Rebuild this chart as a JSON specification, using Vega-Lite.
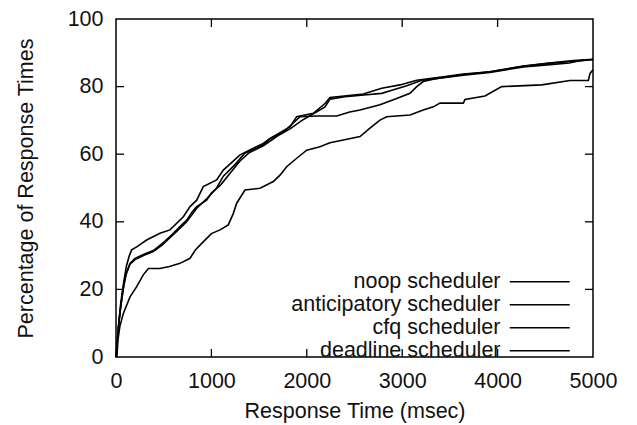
{
  "$schema": "https://vega.github.io/schema/vega-lite/v6.json",
  "width": 477,
  "height": 338,
  "autosize": {"type": "none"},
  "padding": {"left": 116, "top": 19, "right": 44, "bottom": 68},
  "background": "white",
  "config": {
    "view": {"stroke": "black", "strokeWidth": 1.5},
    "font": "Liberation Sans",
    "axis": {
      "grid": false, "domain": false, "ticks": false,
      "labelFont": "Liberation Sans", "labelFontSize": 21.5, "labelColor": "#111", "labelPadding": 13,
      "titleFont": "Liberation Sans", "titleFontSize": 21.5, "titleFontWeight": "normal", "titleColor": "#111"
    }
  },
  "datasets": {
    "xt": [{"v": 1000}, {"v": 2000}, {"v": 3000}, {"v": 4000}],
    "yt": [{"v": 20}, {"v": 40}, {"v": 60}, {"v": 80}],
    "cdf": [
      {"s": "noop scheduler", "t": 0, "p": 0},
      {"s": "noop scheduler", "t": 15, "p": 5},
      {"s": "noop scheduler", "t": 30, "p": 10},
      {"s": "noop scheduler", "t": 50, "p": 16},
      {"s": "noop scheduler", "t": 80, "p": 22},
      {"s": "noop scheduler", "t": 110, "p": 27},
      {"s": "noop scheduler", "t": 140, "p": 30},
      {"s": "noop scheduler", "t": 164, "p": 31.7},
      {"s": "noop scheduler", "t": 217, "p": 32.6},
      {"s": "noop scheduler", "t": 321, "p": 34.6},
      {"s": "noop scheduler", "t": 461, "p": 36.6},
      {"s": "noop scheduler", "t": 566, "p": 37.6},
      {"s": "noop scheduler", "t": 706, "p": 41.5},
      {"s": "noop scheduler", "t": 776, "p": 44.5},
      {"s": "noop scheduler", "t": 846, "p": 46.4},
      {"s": "noop scheduler", "t": 915, "p": 50.4},
      {"s": "noop scheduler", "t": 1055, "p": 52.4},
      {"s": "noop scheduler", "t": 1125, "p": 55.3},
      {"s": "noop scheduler", "t": 1300, "p": 59.8},
      {"s": "noop scheduler", "t": 1544, "p": 63.2},
      {"s": "noop scheduler", "t": 1614, "p": 64.7},
      {"s": "noop scheduler", "t": 1824, "p": 68.1},
      {"s": "noop scheduler", "t": 1894, "p": 71.1},
      {"s": "noop scheduler", "t": 2068, "p": 72.1},
      {"s": "noop scheduler", "t": 2191, "p": 75.0},
      {"s": "noop scheduler", "t": 2243, "p": 76.8},
      {"s": "noop scheduler", "t": 2593, "p": 77.8},
      {"s": "noop scheduler", "t": 2785, "p": 79.5},
      {"s": "noop scheduler", "t": 2977, "p": 80.5},
      {"s": "noop scheduler", "t": 3152, "p": 81.9},
      {"s": "noop scheduler", "t": 3431, "p": 82.9},
      {"s": "noop scheduler", "t": 3641, "p": 83.7},
      {"s": "noop scheduler", "t": 3920, "p": 84.4},
      {"s": "noop scheduler", "t": 4270, "p": 86.1},
      {"s": "noop scheduler", "t": 4515, "p": 86.9},
      {"s": "noop scheduler", "t": 4794, "p": 87.7},
      {"s": "noop scheduler", "t": 5000, "p": 88.1},

      {"s": "anticipatory scheduler", "t": 0, "p": 0},
      {"s": "anticipatory scheduler", "t": 10, "p": 0},
      {"s": "anticipatory scheduler", "t": 20, "p": 5},
      {"s": "anticipatory scheduler", "t": 40, "p": 9},
      {"s": "anticipatory scheduler", "t": 77, "p": 12.9},
      {"s": "anticipatory scheduler", "t": 147, "p": 17.8},
      {"s": "anticipatory scheduler", "t": 217, "p": 20.8},
      {"s": "anticipatory scheduler", "t": 286, "p": 24.3},
      {"s": "anticipatory scheduler", "t": 339, "p": 26.2},
      {"s": "anticipatory scheduler", "t": 461, "p": 26.2},
      {"s": "anticipatory scheduler", "t": 560, "p": 26.8},
      {"s": "anticipatory scheduler", "t": 671, "p": 27.7},
      {"s": "anticipatory scheduler", "t": 776, "p": 29.2},
      {"s": "anticipatory scheduler", "t": 828, "p": 31.5},
      {"s": "anticipatory scheduler", "t": 863, "p": 32.6},
      {"s": "anticipatory scheduler", "t": 930, "p": 34.5},
      {"s": "anticipatory scheduler", "t": 1000, "p": 36.5},
      {"s": "anticipatory scheduler", "t": 1090, "p": 37.6},
      {"s": "anticipatory scheduler", "t": 1177, "p": 39.1},
      {"s": "anticipatory scheduler", "t": 1230, "p": 42.5},
      {"s": "anticipatory scheduler", "t": 1265, "p": 45.5},
      {"s": "anticipatory scheduler", "t": 1352, "p": 49.4},
      {"s": "anticipatory scheduler", "t": 1509, "p": 49.9},
      {"s": "anticipatory scheduler", "t": 1649, "p": 51.9},
      {"s": "anticipatory scheduler", "t": 1719, "p": 53.8},
      {"s": "anticipatory scheduler", "t": 1789, "p": 56.3},
      {"s": "anticipatory scheduler", "t": 1894, "p": 58.8},
      {"s": "anticipatory scheduler", "t": 1999, "p": 61.2},
      {"s": "anticipatory scheduler", "t": 2138, "p": 62.2},
      {"s": "anticipatory scheduler", "t": 2243, "p": 63.4},
      {"s": "anticipatory scheduler", "t": 2383, "p": 64.2},
      {"s": "anticipatory scheduler", "t": 2558, "p": 65.2},
      {"s": "anticipatory scheduler", "t": 2662, "p": 67.7},
      {"s": "anticipatory scheduler", "t": 2767, "p": 70.1},
      {"s": "anticipatory scheduler", "t": 2837, "p": 71.1},
      {"s": "anticipatory scheduler", "t": 3082, "p": 71.6},
      {"s": "anticipatory scheduler", "t": 3221, "p": 73.1},
      {"s": "anticipatory scheduler", "t": 3326, "p": 74.0},
      {"s": "anticipatory scheduler", "t": 3396, "p": 75.1},
      {"s": "anticipatory scheduler", "t": 3641, "p": 75.1},
      {"s": "anticipatory scheduler", "t": 3658, "p": 76.2},
      {"s": "anticipatory scheduler", "t": 3868, "p": 77.2},
      {"s": "anticipatory scheduler", "t": 4043, "p": 80.0},
      {"s": "anticipatory scheduler", "t": 4462, "p": 80.5},
      {"s": "anticipatory scheduler", "t": 4759, "p": 81.8},
      {"s": "anticipatory scheduler", "t": 4951, "p": 81.8},
      {"s": "anticipatory scheduler", "t": 4969, "p": 83.9},
      {"s": "anticipatory scheduler", "t": 5000, "p": 85},

      {"s": "cfq scheduler", "t": 0, "p": 0},
      {"s": "cfq scheduler", "t": 15, "p": 5},
      {"s": "cfq scheduler", "t": 30, "p": 10},
      {"s": "cfq scheduler", "t": 50, "p": 15},
      {"s": "cfq scheduler", "t": 80, "p": 21},
      {"s": "cfq scheduler", "t": 110, "p": 25},
      {"s": "cfq scheduler", "t": 147, "p": 27.7},
      {"s": "cfq scheduler", "t": 199, "p": 29.2},
      {"s": "cfq scheduler", "t": 300, "p": 30.5},
      {"s": "cfq scheduler", "t": 391, "p": 31.5},
      {"s": "cfq scheduler", "t": 480, "p": 33.5},
      {"s": "cfq scheduler", "t": 566, "p": 35.6},
      {"s": "cfq scheduler", "t": 650, "p": 38},
      {"s": "cfq scheduler", "t": 741, "p": 40.5},
      {"s": "cfq scheduler", "t": 800, "p": 43},
      {"s": "cfq scheduler", "t": 846, "p": 44.5},
      {"s": "cfq scheduler", "t": 950, "p": 46.4},
      {"s": "cfq scheduler", "t": 1000, "p": 48.5},
      {"s": "cfq scheduler", "t": 1100, "p": 51},
      {"s": "cfq scheduler", "t": 1200, "p": 54.5},
      {"s": "cfq scheduler", "t": 1300, "p": 58},
      {"s": "cfq scheduler", "t": 1400, "p": 60.5},
      {"s": "cfq scheduler", "t": 1544, "p": 62.5},
      {"s": "cfq scheduler", "t": 1700, "p": 65.5},
      {"s": "cfq scheduler", "t": 1824, "p": 67.5},
      {"s": "cfq scheduler", "t": 1950, "p": 70},
      {"s": "cfq scheduler", "t": 2100, "p": 72.5},
      {"s": "cfq scheduler", "t": 2191, "p": 74},
      {"s": "cfq scheduler", "t": 2243, "p": 76.3},
      {"s": "cfq scheduler", "t": 2400, "p": 77},
      {"s": "cfq scheduler", "t": 2600, "p": 77.5},
      {"s": "cfq scheduler", "t": 2785, "p": 78},
      {"s": "cfq scheduler", "t": 2900, "p": 79},
      {"s": "cfq scheduler", "t": 3040, "p": 80.2},
      {"s": "cfq scheduler", "t": 3200, "p": 81.8},
      {"s": "cfq scheduler", "t": 3431, "p": 82.6},
      {"s": "cfq scheduler", "t": 3641, "p": 83.4},
      {"s": "cfq scheduler", "t": 3920, "p": 84.2},
      {"s": "cfq scheduler", "t": 4270, "p": 85.8},
      {"s": "cfq scheduler", "t": 4550, "p": 86.5},
      {"s": "cfq scheduler", "t": 4750, "p": 87.0},
      {"s": "cfq scheduler", "t": 4850, "p": 87.6},
      {"s": "cfq scheduler", "t": 5000, "p": 88.0},

      {"s": "deadline scheduler", "t": 0, "p": 0},
      {"s": "deadline scheduler", "t": 12, "p": 4},
      {"s": "deadline scheduler", "t": 25, "p": 9},
      {"s": "deadline scheduler", "t": 45, "p": 14},
      {"s": "deadline scheduler", "t": 70, "p": 19},
      {"s": "deadline scheduler", "t": 100, "p": 24},
      {"s": "deadline scheduler", "t": 147, "p": 27.5},
      {"s": "deadline scheduler", "t": 199, "p": 28.8},
      {"s": "deadline scheduler", "t": 300, "p": 30.2},
      {"s": "deadline scheduler", "t": 391, "p": 31.2},
      {"s": "deadline scheduler", "t": 480, "p": 33},
      {"s": "deadline scheduler", "t": 566, "p": 35.3},
      {"s": "deadline scheduler", "t": 650, "p": 37.5},
      {"s": "deadline scheduler", "t": 741, "p": 40.0},
      {"s": "deadline scheduler", "t": 846, "p": 44.0},
      {"s": "deadline scheduler", "t": 950, "p": 46.8},
      {"s": "deadline scheduler", "t": 1055, "p": 50},
      {"s": "deadline scheduler", "t": 1125, "p": 53.5},
      {"s": "deadline scheduler", "t": 1250, "p": 57},
      {"s": "deadline scheduler", "t": 1350, "p": 60.3},
      {"s": "deadline scheduler", "t": 1450, "p": 61.5},
      {"s": "deadline scheduler", "t": 1544, "p": 62.8},
      {"s": "deadline scheduler", "t": 1614, "p": 64.5},
      {"s": "deadline scheduler", "t": 1750, "p": 66.5},
      {"s": "deadline scheduler", "t": 1850, "p": 69},
      {"s": "deadline scheduler", "t": 1929, "p": 71.1},
      {"s": "deadline scheduler", "t": 2100, "p": 71.3},
      {"s": "deadline scheduler", "t": 2313, "p": 71.3},
      {"s": "deadline scheduler", "t": 2450, "p": 72.5},
      {"s": "deadline scheduler", "t": 2558, "p": 73.1},
      {"s": "deadline scheduler", "t": 2767, "p": 74.6},
      {"s": "deadline scheduler", "t": 2942, "p": 76.5},
      {"s": "deadline scheduler", "t": 3082, "p": 78},
      {"s": "deadline scheduler", "t": 3152, "p": 80},
      {"s": "deadline scheduler", "t": 3221, "p": 81.5},
      {"s": "deadline scheduler", "t": 3350, "p": 82.3},
      {"s": "deadline scheduler", "t": 3641, "p": 83.6},
      {"s": "deadline scheduler", "t": 3920, "p": 84.4},
      {"s": "deadline scheduler", "t": 4270, "p": 86},
      {"s": "deadline scheduler", "t": 4515, "p": 86.8},
      {"s": "deadline scheduler", "t": 4794, "p": 87.5},
      {"s": "deadline scheduler", "t": 5000, "p": 88}
    ]
  },
  "layer": [
    {
      "data": {"name": "cdf"},
      "mark": {"type": "line", "strokeWidth": 1.6, "interpolate": "linear"},
      "encoding": {
        "x": {
          "field": "t", "type": "quantitative",
          "scale": {"domain": [0, 5000], "nice": false, "zero": false},
          "axis": {"orient": "bottom", "values": [0, 1000, 2000, 3000, 4000, 5000], "format": "d", "labelFlush": false, "labelOverlap": false, "title": "Response Time (msec)", "titlePadding": 9}
        },
        "y": {
          "field": "p", "type": "quantitative",
          "scale": {"domain": [0, 100], "nice": false, "zero": false},
          "axis": {"orient": "left", "values": [0, 20, 40, 60, 80, 100], "format": "d", "labelOverlap": false, "title": "Percentage of Response Times", "titlePadding": 30}
        },
        "color": {
          "field": "s", "type": "nominal",
          "scale": {"domain": ["noop scheduler", "anticipatory scheduler", "cfq scheduler", "deadline scheduler"], "range": ["black", "black", "black", "black"]},
          "legend": {
            "orient": "none", "legendX": 413, "legendY": 252, "title": null,
            "symbolType": "M-6,0H6", "symbolSize": 100, "symbolStrokeWidth": 1.6, "symbolStrokeColor": "black",
            "labelAlign": "right", "labelOffset": -50, "rowPadding": 0, "padding": 0,
            "labelFont": "Liberation Sans", "labelFontSize": 21.5, "labelColor": "#111", "labelLimit": 400
          }
        }
      }
    },
    {
      "data": {"name": "xt"},
      "mark": {"type": "tick", "orient": "vertical", "size": 16, "thickness": 1.3, "color": "black", "opacity": 1, "clip": true},
      "encoding": {
        "x": {"field": "v", "type": "quantitative", "scale": {"domain": [0, 5000], "nice": false, "zero": false}, "axis": {"orient": "bottom", "values": [0, 1000, 2000, 3000, 4000, 5000], "format": "d", "labelFlush": false, "labelOverlap": false, "title": "Response Time (msec)", "titlePadding": 9}},
        "y": {"datum": 0, "type": "quantitative", "scale": {"domain": [0, 100], "nice": false, "zero": false}, "axis": {"orient": "left", "values": [0, 20, 40, 60, 80, 100], "format": "d", "labelOverlap": false, "title": "Percentage of Response Times", "titlePadding": 30}}
      }
    },
    {
      "data": {"name": "xt"},
      "mark": {"type": "tick", "orient": "vertical", "size": 16, "thickness": 1.3, "color": "black", "opacity": 1, "clip": true},
      "encoding": {
        "x": {"field": "v", "type": "quantitative", "scale": {"domain": [0, 5000], "nice": false, "zero": false}, "axis": {"orient": "bottom", "values": [0, 1000, 2000, 3000, 4000, 5000], "format": "d", "labelFlush": false, "labelOverlap": false, "title": "Response Time (msec)", "titlePadding": 9}},
        "y": {"datum": 100, "type": "quantitative", "scale": {"domain": [0, 100], "nice": false, "zero": false}, "axis": {"orient": "left", "values": [0, 20, 40, 60, 80, 100], "format": "d", "labelOverlap": false, "title": "Percentage of Response Times", "titlePadding": 30}}
      }
    },
    {
      "data": {"name": "yt"},
      "mark": {"type": "tick", "orient": "horizontal", "size": 16, "thickness": 1.3, "color": "black", "opacity": 1, "clip": true},
      "encoding": {
        "y": {"field": "v", "type": "quantitative", "scale": {"domain": [0, 100], "nice": false, "zero": false}, "axis": {"orient": "left", "values": [0, 20, 40, 60, 80, 100], "format": "d", "labelOverlap": false, "title": "Percentage of Response Times", "titlePadding": 30}},
        "x": {"datum": 0, "type": "quantitative", "scale": {"domain": [0, 5000], "nice": false, "zero": false}, "axis": {"orient": "bottom", "values": [0, 1000, 2000, 3000, 4000, 5000], "format": "d", "labelFlush": false, "labelOverlap": false, "title": "Response Time (msec)", "titlePadding": 9}}
      }
    },
    {
      "data": {"name": "yt"},
      "mark": {"type": "tick", "orient": "horizontal", "size": 16, "thickness": 1.3, "color": "black", "opacity": 1, "clip": true},
      "encoding": {
        "y": {"field": "v", "type": "quantitative", "scale": {"domain": [0, 100], "nice": false, "zero": false}, "axis": {"orient": "left", "values": [0, 20, 40, 60, 80, 100], "format": "d", "labelOverlap": false, "title": "Percentage of Response Times", "titlePadding": 30}},
        "x": {"datum": 5000, "type": "quantitative", "scale": {"domain": [0, 5000], "nice": false, "zero": false}, "axis": {"orient": "bottom", "values": [0, 1000, 2000, 3000, 4000, 5000], "format": "d", "labelFlush": false, "labelOverlap": false, "title": "Response Time (msec)", "titlePadding": 9}}
      }
    }
  ]
}
